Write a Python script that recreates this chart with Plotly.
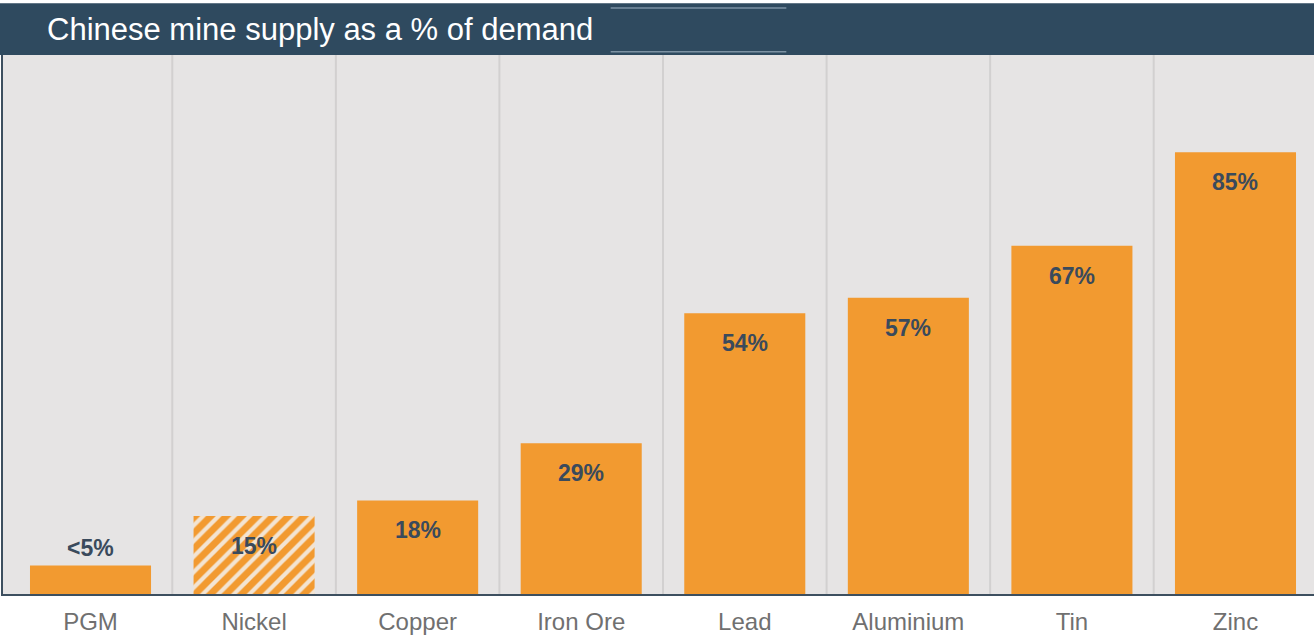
import plotly.graph_objects as go

categories = ["PGM", "Nickel", "Copper", "Iron Ore", "Lead", "Aluminium", "Tin", "Zinc"]
values = [5.5, 15, 18, 29, 54, 57, 67, 85]
labels = ["<5%", "15%", "18%", "29%", "54%", "57%", "67%", "85%"]
hatched = [False, True, False, False, False, False, False, False]
title_text = "Chinese mine supply as a % of demand"

ORANGE = "#f29a30"
NAVY = "#2f4a5f"
BG = "#e6e4e4"
LABEL = "#3a4a5c"
FONT = "Liberation Sans, Arial, sans-serif"

fig = go.Figure()
fig.add_trace(go.Bar(
    x=categories,
    y=values,
    width=0.74,
    marker=dict(
        color=ORANGE,
        line=dict(width=0),
        pattern=dict(
            shape=["/" if h else "" for h in hatched],
            fgcolor=ORANGE,
            bgcolor=["#f3e4d2" if h else ORANGE for h in hatched],
            size=11,
            solidity=0.62,
            fillmode="replace",
        ),
    ),
    hoverinfo="skip",
))

annotations = []
for c, v, t in zip(categories, values, labels):
    above = v < 10
    annotations.append(dict(
        x=c, y=v, xref="x", yref="y", text=f"<b>{t}</b>", showarrow=False,
        yanchor="bottom" if above else "middle",
        yshift=2 if above else -30,
        font=dict(family=FONT, size=23, color=LABEL),
    ))

# title text in the header bar
annotations.append(dict(
    x=0.032, y=1.047, xref="paper", yref="paper", text=title_text, showarrow=False,
    xanchor="left", yanchor="middle",
    font=dict(family=FONT, size=31, color="white"),
))

shapes = []
# header bar
shapes.append(dict(type="rect", xref="paper", yref="paper", x0=-0.01, x1=1.01, y0=1.0, y1=1.096,
                   fillcolor=NAVY, line=dict(width=0), layer="above"))
# the thin lighter lines in the header box
for yy in (1.087, 1.006):
    shapes.append(dict(type="line", xref="paper", yref="paper", x0=0.4635, x1=0.5975, y0=yy, y1=yy,
                       line=dict(color="#7d92a3", width=1.5), layer="above"))
# category separators
for i in range(len(categories) - 1):
    shapes.append(dict(type="line", xref="x", yref="paper", x0=i + 0.5, x1=i + 0.5, y0=0, y1=1,
                       line=dict(color="#d2d0d0", width=2), layer="below"))

fig.update_layout(
    width=1314, height=635,
    margin=dict(l=3, r=0, t=55, b=38),
    paper_bgcolor="white",
    plot_bgcolor=BG,
    showlegend=False,
    annotations=annotations,
    shapes=shapes,
    xaxis=dict(
        range=[-0.535, 7.48],
        showgrid=False, zeroline=False,
        showline=True, linecolor="#3d4f5f", linewidth=1.5,
        ticks="", ticklabelstandoff=5,
        tickfont=dict(family=FONT, size=24, color="#707070"),
    ),
    yaxis=dict(
        range=[0, 103.7],
        showgrid=False, zeroline=False, showticklabels=False,
        showline=True, linecolor="#3d4f5f", linewidth=1.5,
    ),
)

fig.write_html("out.html", config={"displayModeBar": False},
               post_script="document.body.style.margin='0';document.body.style.overflow='hidden';")
